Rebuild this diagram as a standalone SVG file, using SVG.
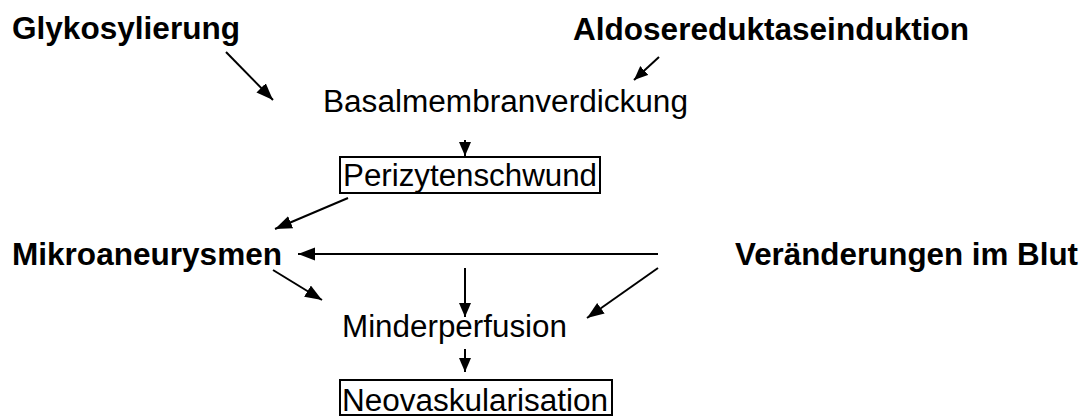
<svg xmlns="http://www.w3.org/2000/svg" width="1087" height="416" viewBox="0 0 1087 416">
<style>
text{font-family:"Liberation Sans",Arial,sans-serif;font-size:31px;fill:#000}
.b{font-weight:bold}
.box{fill:none;stroke:#000;stroke-width:2}
.c line{stroke:#000;stroke-width:2;fill:none}
</style>
<defs>
<marker id="ah" markerUnits="userSpaceOnUse" markerWidth="18" markerHeight="14" refX="17" refY="6.5" orient="auto">
<path d="M0,0 L17,6.5 L0,13 z" fill="#000"/>
</marker>
<marker id="as" markerUnits="userSpaceOnUse" markerWidth="15" markerHeight="13" refX="14" refY="6" orient="auto">
<path d="M0,0 L14,6 L0,12 z" fill="#000"/>
</marker>
</defs>
<rect width="1087" height="416" fill="#fff"/>
<g id="glykosylierung"><text class="b" x="12" y="39" textLength="228" lengthAdjust="spacingAndGlyphs">Glykosylierung</text></g>
<g id="aldosereduktaseinduktion"><text class="b" x="573" y="39.5" textLength="396" lengthAdjust="spacingAndGlyphs">Aldosereduktaseinduktion</text></g>
<g id="basalmembranverdickung"><text x="323" y="111.5" textLength="365" lengthAdjust="spacingAndGlyphs">Basalmembranverdickung</text></g>
<g id="perizytenschwund"><rect class="box" x="340" y="157" width="260" height="36"/><text x="343" y="186" textLength="254" lengthAdjust="spacingAndGlyphs">Perizytenschwund</text></g>
<g id="mikroaneurysmen"><text class="b" x="12" y="264.5" textLength="270" lengthAdjust="spacingAndGlyphs">Mikroaneurysmen</text></g>
<g id="veraenderungen"><text class="b" x="735" y="264.5" textLength="343" lengthAdjust="spacingAndGlyphs">Veränderungen im Blut</text></g>
<g id="minderperfusion"><text x="342" y="336.5" textLength="225" lengthAdjust="spacingAndGlyphs">Minderperfusion</text></g>
<g id="neovaskularisation"><rect class="box" x="340" y="380" width="272" height="35"/><text x="342" y="411" textLength="266" lengthAdjust="spacingAndGlyphs">Neovaskularisation</text></g>
<g class="c" id="connectors">
<line x1="226" y1="52" x2="273" y2="100" marker-end="url(#ah)"/>
<line x1="659" y1="57" x2="634" y2="80" marker-end="url(#as)"/>
<line x1="465" y1="140" x2="465" y2="156" marker-end="url(#as)"/>
<line x1="348" y1="198" x2="275" y2="229" marker-end="url(#ah)"/>
<line x1="658" y1="254" x2="298" y2="254" marker-end="url(#ah)"/>
<line x1="273" y1="270" x2="322" y2="300" marker-end="url(#ah)"/>
<line x1="465" y1="268" x2="465" y2="317" marker-end="url(#as)"/>
<line x1="658" y1="268" x2="587" y2="318" marker-end="url(#ah)"/>
<line x1="465" y1="349" x2="465" y2="372" marker-end="url(#as)"/>
</g>
</svg>
